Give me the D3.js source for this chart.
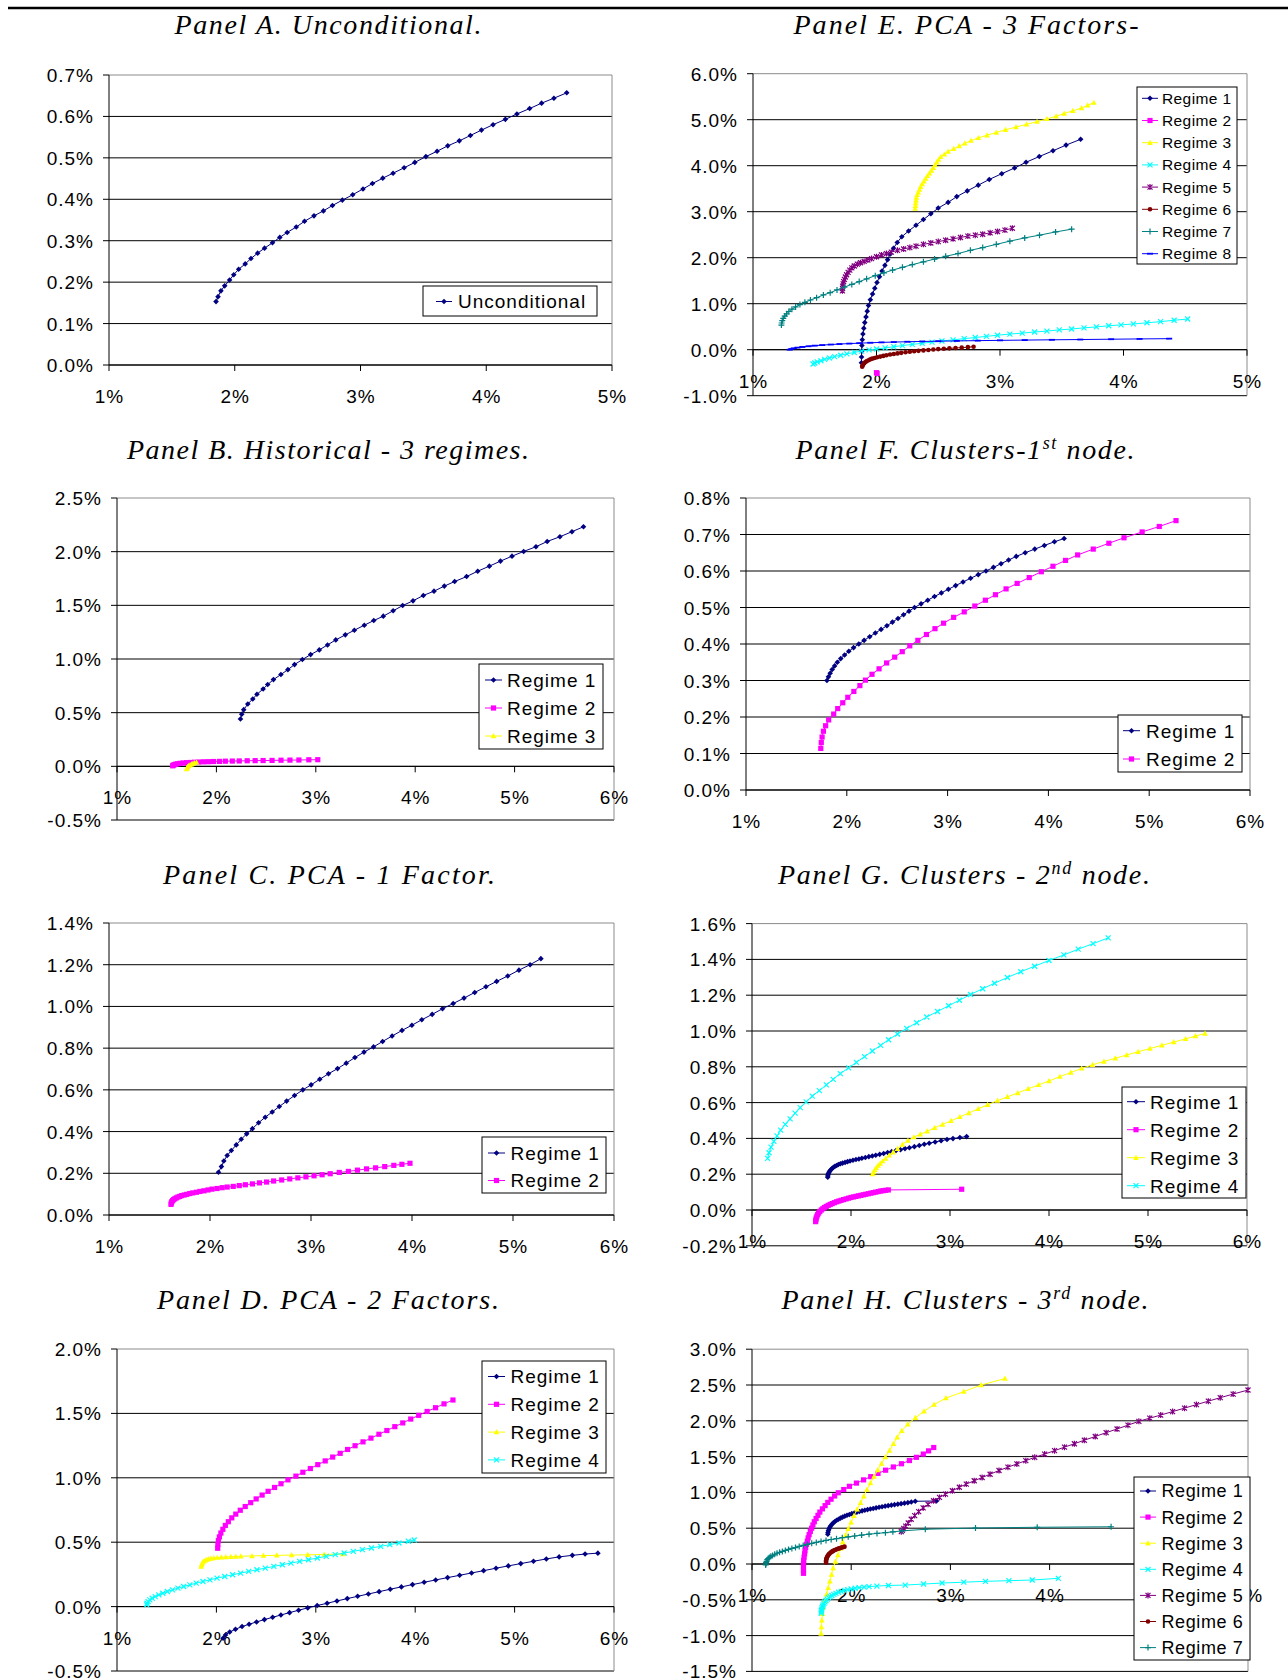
<!DOCTYPE html>
<html>
<head>
<meta charset="utf-8">
<script src="https://cdn.jsdelivr.net/npm/d3@7"></script>
<style>
  body { margin: 0; background: #fff; }
  svg { display: block; }
  .tick-label { font-family: "Liberation Sans", Arial, sans-serif; font-size: 19px; letter-spacing: 1px; fill: #000; }
  .legend-text { font-family: "Liberation Sans", Arial, sans-serif; fill: #000; }
  .title { font-family: "Liberation Serif", "Times New Roman", serif; font-style: italic; font-size: 28px; fill: #000; }
</style>
</head>
<body>
<svg id="chart" width="1288" height="1679"></svg>
<script>
// tick values
const xTicks5 = [1, 2, 3, 4, 5];
const xTicks6 = [1, 2, 3, 4, 5, 6];
const yTicksA = [0, 0.1, 0.2, 0.3, 0.4, 0.5, 0.6, 0.7];
const yTicksB = [-0.5, 0, 0.5, 1, 1.5, 2, 2.5];
const yTicksC = [0, 0.2, 0.4, 0.6, 0.8, 1, 1.2, 1.4];
const yTicksD = [-0.5, 0, 0.5, 1, 1.5, 2];
const yTicksE = [-1, 0, 1, 2, 3, 4, 5, 6];
const yTicksF = [0, 0.1, 0.2, 0.3, 0.4, 0.5, 0.6, 0.7, 0.8];
const yTicksG = [-0.2, 0, 0.2, 0.4, 0.6, 0.8, 1, 1.2, 1.4, 1.6];
const yTicksH = [-1.5, -1, -0.5, 0, 0.5, 1, 1.5, 2, 2.5, 3];

// series: [std dev %, return %]
const panelA_uncond = [[1.851,0.153],[1.867,0.165],[1.890,0.179],[1.920,0.191],[1.959,0.205],[1.992,0.218],[2.031,0.231],[2.083,0.244],[2.129,0.257],[2.182,0.270],[2.237,0.282],[2.300,0.295],[2.358,0.308],[2.417,0.320],[2.489,0.333],[2.555,0.347],[2.630,0.360],[2.705,0.372],[2.777,0.385],[2.856,0.398],[2.938,0.411],[3.020,0.425],[3.095,0.438],[3.177,0.451],[3.259,0.463],[3.347,0.476],[3.432,0.489],[3.520,0.503],[3.609,0.516],[3.694,0.529],[3.786,0.541],[3.874,0.554],[3.962,0.567],[4.054,0.580],[4.152,0.593],[4.244,0.606],[4.345,0.619],[4.440,0.632],[4.538,0.644],[4.640,0.657]];

const panelB_r1 = [[2.242,0.441],[2.255,0.485],[2.275,0.528],[2.316,0.581],[2.366,0.628],[2.408,0.671],[2.470,0.721],[2.516,0.762],[2.574,0.808],[2.649,0.855],[2.719,0.901],[2.786,0.948],[2.865,0.995],[2.948,1.041],[3.035,1.085],[3.118,1.131],[3.201,1.178],[3.297,1.225],[3.388,1.268],[3.488,1.315],[3.583,1.358],[3.679,1.399],[3.778,1.449],[3.874,1.498],[3.978,1.542],[4.082,1.592],[4.189,1.632],[4.293,1.679],[4.397,1.722],[4.517,1.768],[4.629,1.818],[4.746,1.865],[4.858,1.912],[4.974,1.958],[5.091,2.002],[5.215,2.046],[5.328,2.095],[5.456,2.139],[5.577,2.186],[5.693,2.232]];
const panelB_r2 = [[1.56,0.005],[1.565,0.010],[1.575,0.015],[1.59,0.020],[1.61,0.024],[1.635,0.028],[1.665,0.031],[1.70,0.034],[1.74,0.036],[1.78,0.038],[1.82,0.040],[1.87,0.042],[1.92,0.043],[1.97,0.045],[2.03,0.046],[2.09,0.048],[2.16,0.049],[2.23,0.050],[2.31,0.052],[2.39,0.053],[2.47,0.054],[2.56,0.055],[2.65,0.057],[2.74,0.058],[2.83,0.059],[2.93,0.061],[3.02,0.062]];
const panelB_r3 = [[1.70,-0.025],[1.705,-0.015],[1.71,-0.005],[1.72,0.005],[1.735,0.013],[1.75,0.020],[1.765,0.026],[1.78,0.032],[1.80,0.037]];

const panelC_r1 = [[2.084,0.205],[2.113,0.232],[2.137,0.259],[2.170,0.285],[2.211,0.309],[2.260,0.336],[2.309,0.363],[2.363,0.389],[2.420,0.414],[2.481,0.442],[2.547,0.469],[2.616,0.494],[2.686,0.520],[2.759,0.546],[2.837,0.573],[2.919,0.600],[3.001,0.624],[3.087,0.651],[3.173,0.677],[3.263,0.702],[3.349,0.728],[3.435,0.755],[3.525,0.781],[3.619,0.806],[3.709,0.832],[3.803,0.858],[3.901,0.885],[3.999,0.910],[4.097,0.936],[4.200,0.962],[4.302,0.989],[4.408,1.014],[4.515,1.040],[4.621,1.067],[4.732,1.094],[4.838,1.120],[4.948,1.146],[5.059,1.174],[5.169,1.200],[5.276,1.229]];
const panelC_r2 = [[1.614,0.051],[1.617,0.058],[1.622,0.064],[1.63,0.069],[1.64,0.074],[1.652,0.078],[1.666,0.082],[1.682,0.086],[1.70,0.089],[1.72,0.093],[1.745,0.096],[1.77,0.099],[1.80,0.103],[1.83,0.106],[1.865,0.109],[1.90,0.113],[1.94,0.116],[1.98,0.120],[2.02,0.124],[2.07,0.127],[2.12,0.131],[2.17,0.134],[2.23,0.137],[2.29,0.141],[2.35,0.145],[2.42,0.149],[2.49,0.154],[2.56,0.158],[2.63,0.163],[2.71,0.168],[2.79,0.173],[2.87,0.178],[2.95,0.183],[3.03,0.188],[3.11,0.193],[3.19,0.198],[3.28,0.204],[3.37,0.209],[3.46,0.215],[3.55,0.221],[3.64,0.226],[3.73,0.232],[3.82,0.238],[3.90,0.243],[3.98,0.248]];

const panelD_r1 = [[2.067,-0.246],[2.092,-0.220],[2.134,-0.197],[2.192,-0.176],[2.258,-0.155],[2.329,-0.137],[2.404,-0.119],[2.483,-0.101],[2.566,-0.083],[2.649,-0.065],[2.736,-0.047],[2.827,-0.028],[2.919,-0.010],[3.014,0.008],[3.114,0.026],[3.213,0.044],[3.317,0.062],[3.421,0.080],[3.529,0.098],[3.637,0.116],[3.749,0.135],[3.861,0.153],[3.973,0.171],[4.090,0.189],[4.206,0.207],[4.326,0.225],[4.447,0.243],[4.567,0.261],[4.688,0.279],[4.813,0.298],[4.937,0.316],[5.062,0.334],[5.190,0.352],[5.319,0.370],[5.448,0.386],[5.581,0.398],[5.709,0.408],[5.838,0.415]];
const panelD_r2 = [[2.013,0.453],[2.015,0.482],[2.020,0.512],[2.030,0.541],[2.045,0.571],[2.065,0.600],[2.090,0.630],[2.120,0.659],[2.155,0.689],[2.195,0.718],[2.240,0.748],[2.290,0.777],[2.345,0.807],[2.400,0.836],[2.460,0.866],[2.520,0.895],[2.585,0.925],[2.650,0.954],[2.720,0.984],[2.800,1.013],[2.870,1.043],[2.945,1.072],[3.020,1.102],[3.095,1.131],[3.170,1.161],[3.245,1.190],[3.320,1.220],[3.395,1.249],[3.475,1.279],[3.555,1.308],[3.635,1.338],[3.715,1.367],[3.795,1.397],[3.875,1.426],[3.955,1.456],[4.035,1.485],[4.120,1.515],[4.205,1.544],[4.290,1.574],[4.380,1.604]];
const panelD_r3 = [[1.847,0.310],[1.850,0.322],[1.855,0.333],[1.862,0.343],[1.872,0.351],[1.885,0.358],[1.900,0.364],[1.920,0.369],[1.945,0.373],[1.975,0.377],[2.010,0.380],[2.050,0.383],[2.095,0.385],[2.145,0.387],[2.195,0.389],[2.246,0.391],[2.358,0.393],[2.474,0.396],[2.607,0.398],[2.757,0.400],[2.919,0.402],[3.085,0.405],[3.272,0.408]];
const panelD_r4 = [[1.299,0.013],[1.302,0.026],[1.313,0.039],[1.330,0.052],[1.354,0.065],[1.384,0.078],[1.420,0.091],[1.461,0.104],[1.507,0.117],[1.558,0.130],[1.613,0.143],[1.671,0.156],[1.733,0.169],[1.797,0.182],[1.865,0.195],[1.935,0.208],[2.006,0.221],[2.084,0.234],[2.163,0.247],[2.243,0.260],[2.325,0.273],[2.408,0.286],[2.492,0.299],[2.578,0.312],[2.663,0.325],[2.750,0.338],[2.838,0.351],[2.926,0.364],[3.015,0.377],[3.105,0.390],[3.195,0.403],[3.285,0.416],[3.377,0.429],[3.468,0.442],[3.560,0.455],[3.653,0.468],[3.745,0.481],[3.837,0.494],[3.931,0.507],[3.990,0.517]];

const panelE_r1 = [[1.878,-0.283],[1.879,-0.158],[1.880,-0.034],[1.882,0.091],[1.885,0.215],[1.890,0.340],[1.897,0.464],[1.905,0.589],[1.915,0.713],[1.925,0.838],[1.935,0.962],[1.950,1.087],[1.968,1.211],[1.986,1.336],[2.004,1.460],[2.024,1.585],[2.045,1.709],[2.068,1.834],[2.090,1.958],[2.112,2.083],[2.138,2.207],[2.168,2.332],[2.205,2.456],[2.26,2.581],[2.32,2.705],[2.38,2.830],[2.44,2.954],[2.50,3.079],[2.58,3.203],[2.65,3.328],[2.735,3.452],[2.824,3.577],[2.913,3.701],[3.014,3.826],[3.118,3.950],[3.211,4.075],[3.318,4.199],[3.429,4.324],[3.535,4.448],[3.653,4.574]];
const panelE_r2 = [[2.0,-0.50],[2.005,-0.515]];
const panelE_r3 = [[2.313,3.070],[2.315,3.129],[2.317,3.188],[2.320,3.247],[2.323,3.306],[2.329,3.365],[2.338,3.424],[2.348,3.483],[2.357,3.542],[2.370,3.601],[2.384,3.660],[2.398,3.719],[2.412,3.778],[2.428,3.837],[2.445,3.896],[2.460,3.955],[2.474,4.014],[2.488,4.073],[2.502,4.132],[2.52,4.191],[2.55,4.250],[2.58,4.309],[2.625,4.368],[2.67,4.427],[2.715,4.486],[2.765,4.545],[2.825,4.604],[2.895,4.663],[2.97,4.722],[3.045,4.781],[3.13,4.840],[3.215,4.899],[3.30,4.958],[3.38,5.017],[3.455,5.076],[3.52,5.135],[3.59,5.194],[3.66,5.253],[3.71,5.312],[3.76,5.371]];
const panelE_r4 = [[1.486,-0.31],[1.50,-0.29],[1.52,-0.265],[1.55,-0.24],[1.58,-0.21],[1.62,-0.18],[1.66,-0.15],[1.71,-0.12],[1.76,-0.09],[1.82,-0.06],[1.88,-0.03],[1.94,-0.005],[2.00,0.015],[2.07,0.04],[2.14,0.065],[2.21,0.09],[2.29,0.115],[2.37,0.14],[2.45,0.165],[2.53,0.19],[2.62,0.215],[2.71,0.24],[2.80,0.265],[2.89,0.29],[2.98,0.315],[3.08,0.34],[3.18,0.36],[3.28,0.385],[3.38,0.405],[3.48,0.43],[3.58,0.45],[3.68,0.475],[3.78,0.495],[3.88,0.52],[3.98,0.54],[4.08,0.56],[4.19,0.585],[4.30,0.61],[4.41,0.64],[4.52,0.667]];
const panelE_r5 = [[1.724,1.28],[1.725,1.33],[1.727,1.38],[1.730,1.43],[1.734,1.48],[1.740,1.53],[1.748,1.58],[1.758,1.63],[1.770,1.68],[1.784,1.73],[1.80,1.78],[1.82,1.82],[1.845,1.86],[1.87,1.89],[1.90,1.92],[1.93,1.95],[1.96,1.98],[2.00,2.02],[2.04,2.06],[2.08,2.09],[2.12,2.12],[2.17,2.16],[2.22,2.19],[2.27,2.22],[2.32,2.25],[2.38,2.29],[2.44,2.32],[2.50,2.35],[2.56,2.38],[2.62,2.41],[2.68,2.44],[2.74,2.47],[2.80,2.49],[2.86,2.51],[2.92,2.54],[2.98,2.57],[3.04,2.60],[3.10,2.64]];
const panelE_r6 = [[1.884,-0.37],[1.887,-0.345],[1.892,-0.32],[1.90,-0.295],[1.91,-0.27],[1.92,-0.25],[1.935,-0.23],[1.95,-0.21],[1.965,-0.195],[1.985,-0.18],[2.005,-0.165],[2.03,-0.15],[2.055,-0.135],[2.08,-0.12],[2.11,-0.105],[2.14,-0.092],[2.17,-0.08],[2.20,-0.068],[2.235,-0.056],[2.27,-0.045],[2.305,-0.035],[2.34,-0.025],[2.38,-0.015],[2.42,-0.005],[2.46,0.005],[2.50,0.013],[2.545,0.021],[2.59,0.029],[2.64,0.037],[2.69,0.045],[2.74,0.055],[2.786,0.065]];
const panelE_r7 = [[1.23,0.536],[1.232,0.58],[1.237,0.63],[1.245,0.68],[1.257,0.73],[1.272,0.78],[1.29,0.83],[1.315,0.88],[1.345,0.93],[1.38,0.98],[1.42,1.03],[1.465,1.08],[1.515,1.13],[1.57,1.19],[1.625,1.24],[1.68,1.30],[1.74,1.36],[1.80,1.42],[1.86,1.48],[1.92,1.54],[1.99,1.61],[2.06,1.67],[2.13,1.73],[2.21,1.79],[2.29,1.85],[2.38,1.91],[2.47,1.97],[2.56,2.03],[2.66,2.09],[2.76,2.16],[2.86,2.22],[2.97,2.29],[3.08,2.36],[3.20,2.43],[3.32,2.49],[3.45,2.56],[3.58,2.62]];
const panelE_r8 = [[1.297,0.0],[1.31,0.015],[1.33,0.03],[1.36,0.045],[1.40,0.06],[1.45,0.075],[1.50,0.088],[1.56,0.10],[1.63,0.112],[1.70,0.123],[1.78,0.133],[1.86,0.142],[1.95,0.151],[2.04,0.159],[2.14,0.166],[2.25,0.173],[2.37,0.179],[2.50,0.185],[2.65,0.191],[2.82,0.197],[3.00,0.203],[3.20,0.209],[3.42,0.215],[3.65,0.221],[3.90,0.228],[4.13,0.234],[4.37,0.24]];

const panelF_r1 = [[1.803,0.30],[1.818,0.31],[1.835,0.32],[1.855,0.33],[1.879,0.34],[1.906,0.35],[1.940,0.36],[1.978,0.37],[2.020,0.38],[2.067,0.39],[2.119,0.40],[2.172,0.41],[2.227,0.42],[2.283,0.43],[2.340,0.44],[2.398,0.45],[2.453,0.46],[2.508,0.47],[2.563,0.48],[2.617,0.49],[2.672,0.50],[2.737,0.51],[2.803,0.52],[2.870,0.53],[2.938,0.54],[3.008,0.55],[3.080,0.56],[3.153,0.57],[3.228,0.58],[3.304,0.59],[3.381,0.60],[3.455,0.61],[3.530,0.62],[3.605,0.63],[3.681,0.64],[3.77,0.65],[3.865,0.66],[3.96,0.67],[4.06,0.68],[4.156,0.689]];
const panelF_r2 = [[1.742,0.114],[1.747,0.130],[1.755,0.145],[1.768,0.161],[1.790,0.176],[1.82,0.192],[1.87,0.208],[1.91,0.223],[1.96,0.239],[2.01,0.254],[2.07,0.270],[2.13,0.286],[2.185,0.301],[2.25,0.317],[2.32,0.332],[2.395,0.348],[2.475,0.364],[2.55,0.379],[2.625,0.395],[2.705,0.410],[2.79,0.426],[2.875,0.442],[2.96,0.457],[3.06,0.473],[3.165,0.488],[3.27,0.504],[3.375,0.520],[3.475,0.535],[3.58,0.551],[3.69,0.566],[3.81,0.582],[3.93,0.598],[4.045,0.613],[4.17,0.629],[4.29,0.644],[4.445,0.660],[4.60,0.676],[4.75,0.691],[4.93,0.707],[5.10,0.722],[5.266,0.738]];

const panelG_r1 = [[1.765,0.183],[1.766,0.190],[1.768,0.197],[1.772,0.204],[1.778,0.211],[1.786,0.218],[1.796,0.225],[1.808,0.232],[1.822,0.238],[1.838,0.244],[1.855,0.249],[1.873,0.254],[1.893,0.258],[1.915,0.262],[1.94,0.266],[1.965,0.270],[1.99,0.274],[2.02,0.278],[2.05,0.282],[2.08,0.285],[2.11,0.289],[2.145,0.293],[2.18,0.298],[2.215,0.302],[2.25,0.306],[2.29,0.311],[2.33,0.316],[2.37,0.321],[2.41,0.326],[2.455,0.332],[2.50,0.337],[2.545,0.343],[2.59,0.348],[2.64,0.354],[2.69,0.360],[2.74,0.367],[2.79,0.373],[2.85,0.380],[2.91,0.387],[2.97,0.394],[3.03,0.399],[3.10,0.405],[3.168,0.41]];
const panelG_r2 = [[1.643,-0.065],[1.645,-0.055],[1.649,-0.045],[1.655,-0.035],[1.663,-0.026],[1.673,-0.017],[1.685,-0.008],[1.70,0.0],[1.715,0.007],[1.732,0.014],[1.75,0.02],[1.77,0.026],[1.79,0.031],[1.81,0.036],[1.832,0.041],[1.855,0.046],[1.878,0.05],[1.90,0.054],[1.925,0.058],[1.95,0.062],[1.975,0.066],[2.0,0.07],[2.025,0.073],[2.05,0.076],[2.075,0.079],[2.10,0.082],[2.125,0.085],[2.15,0.088],[2.175,0.091],[2.20,0.094],[2.225,0.097],[2.25,0.10],[2.275,0.103],[2.30,0.106],[2.325,0.108],[2.35,0.110],[2.377,0.112],[3.118,0.116]];
const panelG_r3 = [[2.219,0.201],[2.228,0.212],[2.24,0.224],[2.255,0.236],[2.273,0.248],[2.295,0.26],[2.32,0.273],[2.35,0.287],[2.385,0.305],[2.425,0.322],[2.47,0.342],[2.52,0.366],[2.575,0.388],[2.635,0.407],[2.70,0.423],[2.77,0.44],[2.845,0.459],[2.925,0.478],[3.01,0.498],[3.10,0.52],[3.19,0.542],[3.285,0.565],[3.38,0.588],[3.48,0.611],[3.58,0.632],[3.685,0.654],[3.79,0.677],[3.895,0.699],[4.00,0.721],[4.11,0.745],[4.22,0.768],[4.33,0.791],[4.44,0.811],[4.555,0.83],[4.67,0.848],[4.785,0.866],[4.90,0.884],[5.02,0.902],[5.14,0.92],[5.26,0.938],[5.38,0.956],[5.48,0.972],[5.576,0.986]];
const panelG_r4 = [[1.158,0.288],[1.172,0.320],[1.192,0.351],[1.221,0.383],[1.253,0.414],[1.289,0.446],[1.336,0.478],[1.385,0.509],[1.436,0.541],[1.487,0.572],[1.547,0.604],[1.609,0.636],[1.680,0.667],[1.751,0.699],[1.82,0.730],[1.892,0.762],[1.975,0.794],[2.055,0.825],[2.137,0.857],[2.216,0.888],[2.30,0.920],[2.379,0.951],[2.47,0.983],[2.563,1.015],[2.663,1.046],[2.765,1.078],[2.874,1.109],[2.986,1.141],[3.095,1.172],[3.207,1.204],[3.33,1.236],[3.45,1.267],[3.58,1.299],[3.715,1.331],[3.855,1.362],[4.00,1.394],[4.15,1.425],[4.295,1.457],[4.445,1.488],[4.598,1.520]];

const panelH_r1 = [[1.764,0.415],[1.766,0.44],[1.77,0.465],[1.776,0.49],[1.784,0.513],[1.794,0.535],[1.806,0.556],[1.82,0.575],[1.836,0.593],[1.853,0.61],[1.872,0.626],[1.892,0.641],[1.913,0.655],[1.935,0.668],[1.958,0.68],[1.982,0.692],[2.006,0.703],[2.031,0.713],[2.057,0.723],[2.083,0.733],[2.11,0.742],[2.137,0.751],[2.165,0.76],[2.193,0.768],[2.222,0.776],[2.251,0.784],[2.281,0.792],[2.311,0.8],[2.342,0.808],[2.373,0.815],[2.405,0.822],[2.437,0.829],[2.47,0.836],[2.503,0.843],[2.537,0.85],[2.571,0.857],[2.606,0.866],[2.646,0.876],[2.86,0.88]];
const panelH_r2 = [[1.519,-0.130],[1.519,-0.085],[1.519,-0.040],[1.519,0.005],[1.521,0.050],[1.525,0.095],[1.530,0.140],[1.534,0.185],[1.541,0.230],[1.549,0.275],[1.558,0.320],[1.566,0.365],[1.576,0.410],[1.588,0.455],[1.601,0.500],[1.614,0.545],[1.628,0.590],[1.646,0.635],[1.665,0.680],[1.684,0.725],[1.71,0.770],[1.737,0.815],[1.764,0.860],[1.797,0.905],[1.833,0.950],[1.87,0.995],[1.925,1.040],[1.982,1.085],[2.053,1.130],[2.125,1.175],[2.197,1.220],[2.27,1.265],[2.347,1.310],[2.425,1.355],[2.507,1.400],[2.587,1.445],[2.657,1.490],[2.727,1.535],[2.78,1.580],[2.832,1.627]];
const panelH_r3 = [[1.697,-0.970],[1.700,-0.879],[1.704,-0.787],[1.711,-0.696],[1.719,-0.605],[1.734,-0.513],[1.752,-0.422],[1.768,-0.331],[1.785,-0.240],[1.802,-0.148],[1.818,-0.057],[1.841,0.034],[1.866,0.126],[1.890,0.217],[1.915,0.308],[1.942,0.400],[1.970,0.491],[1.999,0.582],[2.028,0.673],[2.060,0.765],[2.094,0.856],[2.127,0.947],[2.159,1.039],[2.194,1.130],[2.230,1.221],[2.268,1.313],[2.306,1.404],[2.345,1.495],[2.386,1.586],[2.426,1.678],[2.463,1.769],[2.51,1.860],[2.57,1.952],[2.648,2.043],[2.734,2.134],[2.835,2.226],[2.955,2.317],[3.135,2.408],[3.31,2.500],[3.55,2.590]];
const panelH_r4 = [[1.697,-0.69],[1.698,-0.67],[1.700,-0.65],[1.703,-0.63],[1.707,-0.61],[1.712,-0.59],[1.718,-0.57],[1.726,-0.55],[1.735,-0.53],[1.746,-0.51],[1.758,-0.49],[1.772,-0.47],[1.788,-0.455],[1.805,-0.44],[1.825,-0.425],[1.847,-0.41],[1.872,-0.395],[1.90,-0.382],[1.93,-0.37],[1.965,-0.358],[2.0,-0.348],[2.04,-0.338],[2.08,-0.33],[2.13,-0.322],[2.18,-0.316],[2.259,-0.308],[2.375,-0.30],[2.545,-0.294],[2.73,-0.28],[2.916,-0.266],[3.135,-0.254],[3.354,-0.242],[3.59,-0.233],[3.825,-0.224],[4.088,-0.20]];
const panelH_r5 = [[2.505,0.452],[2.515,0.47],[2.53,0.496],[2.55,0.53],[2.575,0.573],[2.605,0.625],[2.64,0.676],[2.68,0.731],[2.725,0.783],[2.775,0.833],[2.83,0.884],[2.89,0.93],[2.95,0.975],[3.02,1.023],[3.09,1.072],[3.16,1.116],[3.24,1.163],[3.32,1.208],[3.40,1.254],[3.49,1.306],[3.58,1.352],[3.67,1.398],[3.76,1.443],[3.85,1.49],[3.95,1.535],[4.05,1.583],[4.15,1.632],[4.25,1.68],[4.35,1.729],[4.46,1.781],[4.57,1.834],[4.68,1.886],[4.79,1.939],[4.90,1.993],[5.01,2.037],[5.12,2.08],[5.24,2.129],[5.36,2.177],[5.48,2.226],[5.60,2.274],[5.72,2.323],[5.85,2.373],[6.0,2.43]];
const panelH_r6 = [[1.747,0.019],[1.746,0.035],[1.747,0.05],[1.749,0.065],[1.752,0.08],[1.756,0.094],[1.761,0.108],[1.767,0.121],[1.774,0.134],[1.782,0.146],[1.791,0.157],[1.80,0.167],[1.81,0.176],[1.82,0.184],[1.83,0.192],[1.842,0.199],[1.854,0.206],[1.866,0.212],[1.878,0.218],[1.89,0.224],[1.902,0.229],[1.914,0.234],[1.925,0.238],[1.933,0.242]];
const panelH_r7 = [[1.138,-0.014],[1.139,0.0],[1.142,0.018],[1.147,0.036],[1.154,0.06],[1.163,0.076],[1.175,0.09],[1.19,0.107],[1.208,0.12],[1.229,0.136],[1.252,0.15],[1.278,0.163],[1.306,0.176],[1.336,0.19],[1.368,0.203],[1.402,0.217],[1.438,0.23],[1.476,0.245],[1.516,0.259],[1.558,0.274],[1.602,0.289],[1.648,0.302],[1.696,0.315],[1.746,0.329],[1.798,0.342],[1.852,0.354],[1.91,0.367],[1.97,0.379],[2.035,0.391],[2.105,0.404],[2.18,0.416],[2.26,0.427],[2.345,0.438],[2.42,0.449],[2.512,0.462],[2.747,0.485],[3.253,0.503],[3.875,0.513],[4.62,0.52]];

const regimeNames = ["Regime 1", "Regime 2", "Regime 3", "Regime 4", "Regime 5", "Regime 6", "Regime 7", "Regime 8"];

// Excel default series look
const styles = [
  { color: "#000080", marker: "diamond" },
  { color: "#ff00ff", marker: "square" },
  { color: "#ffff00", marker: "triangle" },
  { color: "#00ffff", marker: "x" },
  { color: "#800080", marker: "star" },
  { color: "#800000", marker: "circle" },
  { color: "#008080", marker: "plus" },
  { color: "#0000ff", marker: "dash" },
];

const markerPaths = {
  diamond: "M0,-2.8L2.8,0L0,2.8L-2.8,0Z",
  square: "M-2.6,-2.6h5.2v5.2h-5.2Z",
  triangle: "M0,-3L2.8,2.2L-2.8,2.2Z",
  x: "M-2.5,-2.5L2.5,2.5M-2.5,2.5L2.5,-2.5",
  star: "M-2.5,-2.5L2.5,2.5M-2.5,2.5L2.5,-2.5M0,-3V3",
  circle: "M2.3,0A2.3,2.3 0 1,1 -2.3,0A2.3,2.3 0 1,1 2.3,0Z",
  plus: "M-3,0H3M0,-3V3",
  dash: "M-3,0H3",
};
const strokeMarkers = ["x", "star", "plus", "dash"];

const panels = [
  { title: [["Panel A. Unconditional."]], tx: 328, ty: 34, tw: 307,
    left: 109, right: 612, top: 75, bottom: 365, xDomain: [1, 5], yDomain: [0, 0.7], xTicks: xTicks5, yTicks: yTicksA,
    series: [panelA_uncond], names: ["Unconditional"],
    legend: { x: 423, y: 286, w: 174, h: 30, row0: 301.5, step: 28, size: 19, ls: 1, l0: 13, l1: 29, tx: 35 } },
  { title: [["Panel B. Historical - 3 regimes."]], tx: 328, ty: 459, tw: 402,
    left: 117, right: 614, top: 498, bottom: 820, xDomain: [1, 6], yDomain: [-0.5, 2.5], xTicks: xTicks6, yTicks: yTicksB,
    series: [panelB_r1, panelB_r2, panelB_r3], names: regimeNames,
    legend: { x: 479, y: 664, w: 124, h: 85, row0: 680, step: 28, size: 19, ls: 1, l0: 6, l1: 23, tx: 28 } },
  { title: [["Panel C. PCA - 1 Factor."]], tx: 329, ty: 884, tw: 332,
    left: 109, right: 614, top: 923, bottom: 1215, xDomain: [1, 6], yDomain: [0, 1.4], xTicks: xTicks6, yTicks: yTicksC,
    series: [panelC_r1, panelC_r2], names: regimeNames,
    legend: { x: 482, y: 1137, w: 124, h: 56, row0: 1153, step: 27.5, size: 19, ls: 1, l0: 6, l1: 23, tx: 28.5 } },
  { title: [["Panel D. PCA - 2 Factors."]], tx: 328, ty: 1309, tw: 342,
    left: 117, right: 614, top: 1349, bottom: 1671, xDomain: [1, 6], yDomain: [-0.5, 2], xTicks: xTicks6, yTicks: yTicksD,
    series: [panelD_r1, panelD_r2, panelD_r3, panelD_r4], names: regimeNames,
    legend: { x: 482, y: 1361, w: 124, h: 112, row0: 1376.5, step: 27.8, size: 19, ls: 1, l0: 6, l1: 23, tx: 28.5 } },
  { title: [["Panel E. PCA - 3 Factors-"]], tx: 966, ty: 34, tw: 345,
    left: 753, right: 1247, top: 73.7, bottom: 395.7, xDomain: [1, 5], yDomain: [-1, 6], xTicks: xTicks5, yTicks: yTicksE,
    series: [panelE_r1, panelE_r2, panelE_r3, panelE_r4, panelE_r5, panelE_r6, panelE_r7, panelE_r8], names: regimeNames,
    legend: { x: 1137, y: 87, w: 100, h: 177, row0: 98.3, step: 22.2, size: 15.5, ls: 0.4, l0: 5, l1: 21, tx: 25 } },
  { title: [["Panel F. Clusters-1"], ["st", true], [" node."]], tx: 965, ty: 459, tw: 339,
    left: 746, right: 1250, top: 498, bottom: 790, xDomain: [1, 6], yDomain: [0, 0.8], xTicks: xTicks6, yTicks: yTicksF,
    series: [panelF_r1, panelF_r2], names: regimeNames,
    legend: { x: 1118, y: 715, w: 124, h: 57, row0: 730.7, step: 28.3, size: 19, ls: 1, l0: 5, l1: 22, tx: 28 } },
  { title: [["Panel G. Clusters - 2"], ["nd", true], [" node."]], tx: 964, ty: 884, tw: 372,
    left: 752, right: 1247, top: 923.6, bottom: 1245.8, xDomain: [1, 6], yDomain: [-0.2, 1.6], xTicks: xTicks6, yTicks: yTicksG,
    series: [panelG_r1, panelG_r2, panelG_r3, panelG_r4], names: regimeNames,
    legend: { x: 1122, y: 1087, w: 124, h: 111, row0: 1101.7, step: 28, size: 19, ls: 1, l0: 5, l1: 23, tx: 28 } },
  { title: [["Panel H. Clusters - 3"], ["rd", true], [" node."]], tx: 965, ty: 1309, tw: 367,
    left: 752, right: 1248, top: 1349.2, bottom: 1671.4, xDomain: [1, 6], yDomain: [-1.5, 3], xTicks: xTicks6, yTicks: yTicksH,
    series: [panelH_r1, panelH_r2, panelH_r3, panelH_r4, panelH_r5, panelH_r6, panelH_r7], names: regimeNames,
    legend: { x: 1134, y: 1477, w: 116, h: 183, row0: 1491, step: 26.1, size: 18, ls: 0.6, l0: 6, l1: 22, tx: 27.5 } },
];

const svg = d3.select("#chart");

svg
  .append("line")
  .attr("x1", 8)
  .attr("x2", 1288)
  .attr("y1", 8)
  .attr("y2", 8)
  .attr("stroke", "#000")
  .attr("stroke-width", 2.6);

function addMarkers(sel, style) {
  const isStroke = strokeMarkers.includes(style.marker);
  sel
    .append("path")
    .attr("d", markerPaths[style.marker])
    .attr("fill", isStroke ? "none" : style.color)
    .attr("stroke", isStroke ? style.color : "none")
    .attr("stroke-width", style.marker === "dash" ? 1.8 : 1.2);
}

function drawPanel(p) {
  const x = d3.scaleLinear().domain(p.xDomain).range([p.left, p.right]);
  const y = d3.scaleLinear().domain(p.yDomain).range([p.bottom, p.top]);
  const g = svg.append("g");

  const title = g
    .append("text")
    .attr("class", "title")
    .attr("x", p.tx)
    .attr("y", p.ty)
    .attr("text-anchor", "middle")
    .attr("textLength", p.tw)
    .attr("lengthAdjust", "spacing");
  let raised = false;
  p.title.forEach((seg) => {
    const t = title.append("tspan").text(seg[0]);
    if (seg[1]) {
      t.attr("font-size", 18).attr("dy", -10);
      raised = true;
    } else if (raised) {
      t.attr("dy", 10);
      raised = false;
    }
  });

  // gridlines
  g.selectAll(".grid")
    .data(p.yTicks)
    .enter()
    .append("line")
    .attr("x1", p.left)
    .attr("x2", p.right)
    .attr("y1", (d) => y(d))
    .attr("y2", (d) => y(d))
    .attr("stroke", (d) => (d === p.yDomain[1] ? "#8c8c8c" : "#000"))
    .attr("stroke-width", 1);

  g.append("line")
    .attr("x1", p.right)
    .attr("x2", p.right)
    .attr("y1", p.top)
    .attr("y2", p.bottom)
    .attr("stroke", "#8c8c8c");

  // y axis
  g.append("line")
    .attr("x1", p.left)
    .attr("x2", p.left)
    .attr("y1", p.top)
    .attr("y2", p.bottom)
    .attr("stroke", "#000");
  g.selectAll(".ytick")
    .data(p.yTicks)
    .enter()
    .append("line")
    .attr("x1", p.left - 6)
    .attr("x2", p.left)
    .attr("y1", (d) => y(d))
    .attr("y2", (d) => y(d))
    .attr("stroke", "#000");
  g.selectAll(".ylab")
    .data(p.yTicks)
    .enter()
    .append("text")
    .attr("class", "tick-label")
    .attr("x", p.left - 15)
    .attr("y", (d) => y(d) + 7)
    .attr("text-anchor", "end")
    .text((d) => d.toFixed(1) + "%");

  // x axis at zero
  const y0 = y(0);
  g.append("line")
    .attr("x1", p.left)
    .attr("x2", p.right)
    .attr("y1", y0)
    .attr("y2", y0)
    .attr("stroke", "#000");
  g.selectAll(".xtick")
    .data(p.xTicks)
    .enter()
    .append("line")
    .attr("x1", (d) => x(d))
    .attr("x2", (d) => x(d))
    .attr("y1", y0)
    .attr("y2", y0 + 6)
    .attr("stroke", "#000");
  g.selectAll(".xlab")
    .data(p.xTicks)
    .enter()
    .append("text")
    .attr("class", "tick-label")
    .attr("x", (d) => x(d) + 0.5)
    .attr("y", y0 + 38)
    .attr("text-anchor", "middle")
    .text((d) => d + "%");

  const line = d3
    .line()
    .x((d) => x(d[0]))
    .y((d) => y(d[1]));

  p.series.forEach((data, i) => {
    const st = styles[i];
    g.append("path")
      .datum(data)
      .attr("d", line)
      .attr("fill", "none")
      .attr("stroke", st.color)
      .attr("stroke-width", 1);
    const pts = g
      .append("g")
      .selectAll("g")
      .data(data)
      .enter()
      .append("g")
      .attr("transform", (d) => `translate(${x(d[0])},${y(d[1])})`);
    addMarkers(pts, st);
  });

  // legend
  const lg = p.legend;
  const leg = g.append("g");
  leg
    .append("rect")
    .attr("x", lg.x)
    .attr("y", lg.y)
    .attr("width", lg.w)
    .attr("height", lg.h)
    .attr("fill", "#fff")
    .attr("stroke", "#000")
    .attr("stroke-width", 1);
  p.series.forEach((data, i) => {
    const st = styles[i];
    const cy = lg.row0 + i * lg.step;
    leg
      .append("line")
      .attr("x1", lg.x + lg.l0)
      .attr("x2", lg.x + lg.l1)
      .attr("y1", cy)
      .attr("y2", cy)
      .attr("stroke", st.color)
      .attr("stroke-width", 1);
    const m = leg.append("g").attr("transform", `translate(${lg.x + (lg.l0 + lg.l1) / 2},${cy})`);
    addMarkers(m, st);
    leg
      .append("text")
      .attr("class", "legend-text")
      .attr("x", lg.x + lg.tx)
      .attr("y", cy + lg.size * 0.36)
      .attr("font-size", lg.size)
      .attr("letter-spacing", lg.ls)
      .text(p.names[i]);
  });
}

panels.forEach(drawPanel);
</script>
</body>
</html>
